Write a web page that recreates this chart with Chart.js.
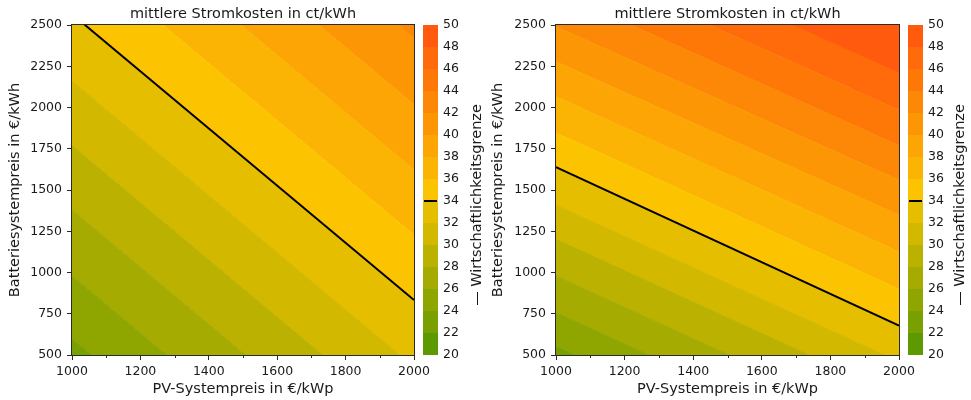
<!DOCTYPE html>
<html>
<head>
<meta charset="utf-8">
<script src="https://cdn.jsdelivr.net/npm/chart.js@4.4.1/dist/chart.umd.min.js"></script>
<style>
  html, body { margin: 0; padding: 0; background: #fff; }
  .wrap { display: flex; width: 971px; height: 400px; }
  canvas { display: block; }
</style>
</head>
<body>
<div class="wrap">
  <canvas id="costLeft" width="486" height="400"></canvas>
  <canvas id="costRight" width="485" height="400"></canvas>
</div>
<script>
// contour levels of the mean electricity cost (ct/kWh)
const levels = [20, 22, 24, 26, 28, 30, 32, 34, 36, 38, 40, 42, 44, 46, 48, 50];
// one colour per band, band k lies between levels[k] and levels[k + 1]
const bandColors = [
  '#5d9900', '#78a000', '#8fa600', '#a5ab00', '#bbb100', '#d3b800', '#e6be00',
  '#fcc400', '#fbb304', '#fca505', '#fc9605', '#fd8706', '#fe7808', '#ff6a0b', '#ff5a0e'
];
const breakEven = 34;

// PV system price (€/kWp) at the left and right edge of each panel
const pvPrices = [1000, 2000];

// battery price (€/kWh) on each contour line at 1000 and 2000 €/kWp
const leftLevels = [24, 26, 28, 30, 32, 34, 36, 38, 40, 42];
const leftAt1000 = [597, 979, 1379, 1769, 2161, 2566, 2961, 3356, 3751, 4146];
const leftAt2000 = [-1136, -754, -354, 36, 428, 833, 1228, 1623, 2018, 2420];

const rightLevels = [24, 26, 28, 30, 32, 34, 36, 38, 40, 42, 44, 46, 48];
const rightAt1000 = [551, 757, 979, 1201, 1409, 1639, 1847, 2066, 2278, 2490, 2705, 2920, 3140];
const rightAt2000 = [-400, -190, 30, 250, 460, 678, 900, 1126, 1348, 1561, 1769, 1985, 2209];

const xTicks = [1000, 1200, 1400, 1600, 1800, 2000];
const xMinorTicks = [1100, 1300, 1500, 1700, 1900];
const yTicks = [500, 750, 1000, 1250, 1500, 1750, 2000, 2250, 2500];
const barTicks = [20, 22, 24, 26, 28, 30, 32, 34, 36, 38, 40, 42, 44, 46, 48, 50];

const FONT = '"DejaVu Sans", Verdana, sans-serif';
const INK = '#1a1a1a';

function linePoints(a, b) {
  return [{ x: pvPrices[0], y: a }, { x: pvPrices[1], y: b }];
}

// filled bands: every contour line fills down to the previous one
function contourDatasets(lv, at1000, at2000) {
  const sets = lv.map((level, i) => {
    const below = bandColors[levels.indexOf(level) - 1];
    return {
      data: linePoints(at1000[i], at2000[i]),
      fill: i === 0 ? 'start' : '-1',
      backgroundColor: below,
      borderColor: below,
      borderWidth: 1,
      pointRadius: 0,
      order: 1
    };
  });
  const last = lv.length - 1;
  const above = bandColors[levels.indexOf(lv[last])];
  sets.push({
    data: linePoints(at1000[last], at2000[last]),
    fill: 'end',
    backgroundColor: above,
    borderColor: above,
    borderWidth: 1,
    pointRadius: 0,
    order: 1
  });
  const k = lv.indexOf(breakEven);
  sets.push({
    data: linePoints(at1000[k], at2000[k]),
    fill: false,
    borderColor: '#000',
    borderWidth: 2,
    pointRadius: 0,
    order: 0
  });
  return sets;
}

// frame, minor ticks, colour bar and titles
const decorations = {
  id: 'decorations',
  afterDraw(chart, args, opts) {
    const { ctx, chartArea: a, scales } = chart;
    const l = Math.round(a.left), r = Math.round(a.right);
    const t = Math.round(a.top), b = Math.round(a.bottom);
    ctx.save();

    ctx.strokeStyle = '#2a2a2a';
    ctx.lineWidth = 1;
    ctx.strokeRect(l - 0.5, t - 0.5, r - l + 1, b - t + 1);

    const x = scales.x;
    xMinorTicks.forEach(v => {
      const px = Math.round(x.getPixelForValue(v)) + 0.5;
      ctx.beginPath();
      ctx.moveTo(px, b);
      ctx.lineTo(px, b + 3);
      ctx.stroke();
    });

    const cb = scales.cb;
    const x0 = Math.round(cb.left) + 9;
    const w = 15;
    for (let k = 0; k < bandColors.length; k++) {
      const yTop = cb.getPixelForValue(levels[k + 1]);
      const yBot = cb.getPixelForValue(levels[k]);
      ctx.fillStyle = bandColors[k];
      ctx.fillRect(x0, yTop, w, yBot - yTop);
    }
    const yb = cb.getPixelForValue(breakEven);
    ctx.strokeStyle = '#000';
    ctx.lineWidth = 2;
    ctx.beginPath();
    ctx.moveTo(x0 + 1, yb);
    ctx.lineTo(x0 + w - 1, yb);
    ctx.stroke();

    ctx.fillStyle = INK;
    ctx.font = '14.5px ' + FONT;
    ctx.textAlign = 'center';
    ctx.textBaseline = 'middle';
    ctx.fillText('mittlere Stromkosten in ct/kWh', (l + r) / 2, 14);

    ctx.translate(cb.left + opts.titleOffset, 205);
    ctx.rotate(-Math.PI / 2);
    ctx.fillText('\u2014 Wirtschaftlichkeitsgrenze', 0, 0);
    ctx.restore();
  }
};

const plain = v => String(v);

function makeChart(id, lv, at1000, at2000, yWidth, yTitlePad, cbTitleOffset) {
  const ctx = document.getElementById(id).getContext('2d');
  return new Chart(ctx, {
    type: 'line',
    data: { datasets: contourDatasets(lv, at1000, at2000) },
    plugins: [decorations],
    options: {
      responsive: false,
      devicePixelRatio: 1,
      animation: false,
      layout: { padding: { top: 25, left: 0, right: 0, bottom: 0 } },
      plugins: {
        legend: { display: false },
        tooltip: { enabled: false },
        decorations: { titleOffset: cbTitleOffset }
      },
      scales: {
        x: {
          type: 'linear',
          min: 1000,
          max: 2000,
          afterBuildTicks: s => { s.ticks = xTicks.map(v => ({ value: v })); },
          afterFit: s => { s.height = 45; },
          grid: { drawOnChartArea: false, tickLength: 5, tickColor: '#2a2a2a' },
          border: { display: false },
          ticks: { color: INK, font: { family: FONT, size: 12.5 }, padding: 4, maxRotation: 0, callback: plain },
          title: {
            display: true,
            text: 'PV-Systempreis in \u20ac/kWp',
            color: INK,
            font: { family: FONT, size: 14.5 },
            padding: { top: 0, bottom: 2 }
          }
        },
        y: {
          type: 'linear',
          position: 'left',
          min: 500,
          max: 2500,
          afterBuildTicks: s => { s.ticks = yTicks.map(v => ({ value: v })); },
          afterFit: s => { s.width = yWidth; },
          grid: { drawOnChartArea: false, tickLength: 5, tickColor: '#2a2a2a' },
          border: { display: false },
          ticks: { color: INK, font: { family: FONT, size: 12.5 }, padding: 5, callback: plain },
          title: {
            display: true,
            text: 'Batteriesystempreis in \u20ac/kWh',
            color: INK,
            font: { family: FONT, size: 14.5 },
            padding: { top: yTitlePad, bottom: 0 }
          }
        },
        cb: {
          type: 'linear',
          position: 'right',
          min: 20,
          max: 50,
          afterBuildTicks: s => { s.ticks = barTicks.map(v => ({ value: v })); },
          afterFit: s => {
            s.width = 72;
            // the wide label gap would otherwise push the plot down
            s.paddingTop = 8;
            s.paddingBottom = 8;
          },
          grid: { display: false, drawTicks: false },
          border: { display: false },
          ticks: { color: INK, font: { family: FONT, size: 12.5 }, padding: 29, callback: plain }
        }
      }
    }
  });
}

makeChart('costLeft', leftLevels, leftAt1000, leftAt2000, 72, 7, 63);
makeChart('costRight', rightLevels, rightAt1000, rightAt2000, 70, 4, 61);
</script>
</body>
</html>
